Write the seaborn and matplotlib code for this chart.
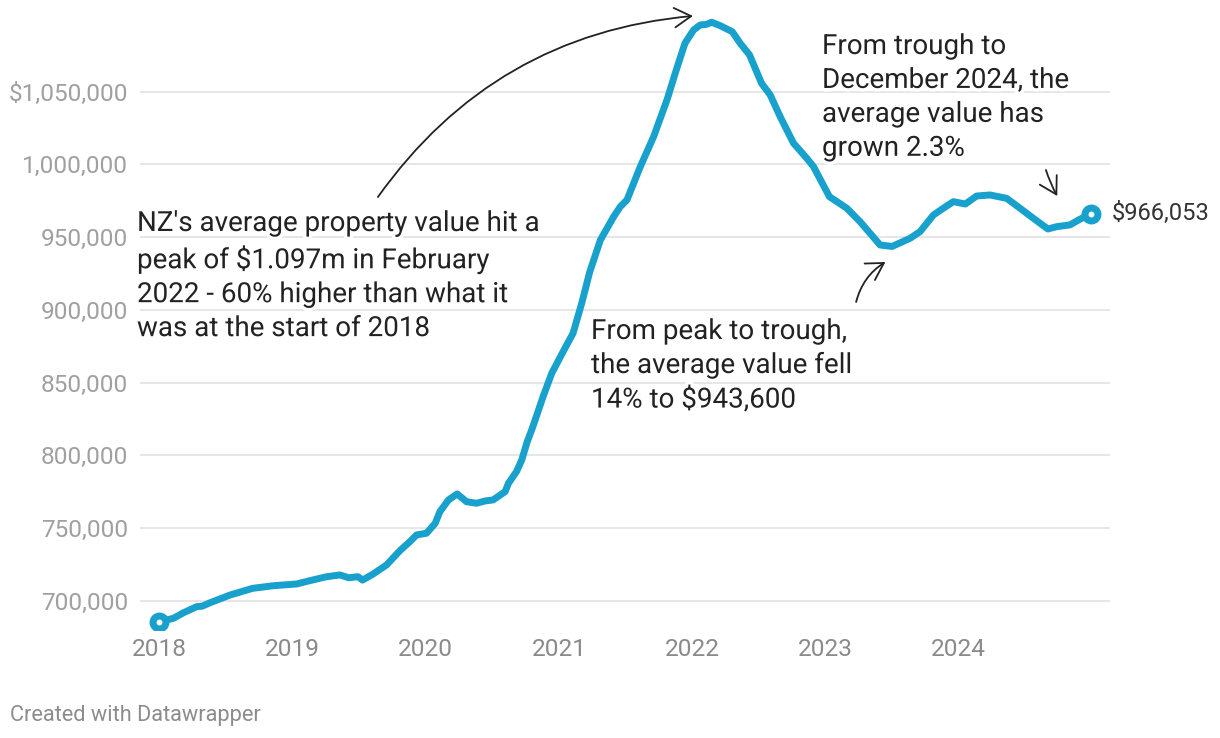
import matplotlib
matplotlib.use("Agg")
import matplotlib.pyplot as plt
import matplotlib.patheffects as pe
from matplotlib.patches import FancyArrowPatch
import seaborn as sns
import pandas as pd

# ---- data ----
years = [2018.00, 2018.105, 2018.18, 2018.28, 2018.32, 2018.38, 2018.53, 2018.70, 2018.855,
         2019.03, 2019.13, 2019.255, 2019.355, 2019.42, 2019.49, 2019.525, 2019.605, 2019.705,
         2019.805, 2019.88, 2019.93, 2020.005, 2020.07, 2020.105, 2020.17, 2020.235, 2020.305,
         2020.38, 2020.445, 2020.505, 2020.595, 2020.62, 2020.68, 2020.72, 2020.76, 2020.80,
         2020.88, 2020.945, 2021.03, 2021.105, 2021.17, 2021.23, 2021.31, 2021.41, 2021.46,
         2021.51, 2021.61, 2021.71, 2021.81, 2021.88, 2021.945, 2022.01, 2022.06, 2022.11,
         2022.145, 2022.21, 2022.30, 2022.36, 2022.43, 2022.52, 2022.585, 2022.66, 2022.76,
         2022.86, 2022.91, 2023.03, 2023.16, 2023.26, 2023.41, 2023.50, 2023.635, 2023.71,
         2023.81, 2023.885, 2023.96, 2024.05, 2024.135, 2024.235, 2024.36, 2024.46, 2024.56,
         2024.67, 2024.735, 2024.835, 2024.90, 2024.99]
values = [685600, 687900, 691700, 695900, 696200, 698600, 703900, 708500, 710300,
          711500, 713800, 716500, 717700, 715800, 716500, 714200, 718400, 724600,
          734400, 740600, 745200, 746400, 753200, 761200, 769300, 773400, 768100,
          767000, 768600, 769300, 775000, 780700, 788700, 796800, 809100, 818800,
          840300, 856400, 871200, 883900, 904500, 926000, 948000, 964100, 971000,
          975600, 998500, 1019100, 1044300, 1065000, 1083300, 1092500, 1095900, 1096400,
          1097800, 1095400, 1091300, 1083300, 1075300, 1055800, 1047800, 1032800, 1014600,
          1004200, 998500, 977800, 969900, 960600, 944600, 943600, 949200, 953800,
          965200, 969900, 974400, 972800, 978300, 979000, 976700, 969900, 963000,
          955600, 957200, 958400, 961800, 966053]

y_ticks = [700000, 750000, 800000, 850000, 900000, 950000, 1000000, 1050000]
y_tick_labels = ["700,000", "750,000", "800,000", "850,000", "900,000", "950,000",
                 "1,000,000", "$1,050,000"]
x_ticks = [2018, 2019, 2020, 2021, 2022, 2023, 2024]
x_tick_labels = ["2018", "2019", "2020", "2021", "2022", "2023", "2024"]
end_label = "$966,053"

note_peak = "NZ's average property value hit a\npeak of $1.097m in February\n2022 - 60% higher than what it\nwas at the start of 2018"
note_trough = "From peak to trough,\nthe average value fell\n14% to $943,600"
note_recent = "From trough to\nDecember 2024, the\naverage value has\ngrown 2.3%"
credit = "Created with Datawrapper"

# ---- style ----
sns.set_theme(style="white")
plt.rcParams["font.family"] = ["Roboto", "DejaVu Sans"]

W, H = 1220, 738
fig = plt.figure(figsize=(W / 100, H / 100), dpi=100)
# axes in pixel box: left 140, right 1110, top 10, bottom 630
ax = fig.add_axes([140 / W, 1 - 630 / H, (1110 - 140) / W, (630 - 10) / H])

BLUE = "#18a1cd"
df = pd.DataFrame({"year": years, "value": values})
sns.lineplot(data=df, x="year", y="value", ax=ax, color=BLUE, linewidth=5.0,
             sort=False, estimator=None, solid_capstyle="round", solid_joinstyle="round",
             zorder=3)
ends = df.iloc[[0, -1]]
sns.scatterplot(data=ends, x="year", y="value", ax=ax, s=87, color="white",
                edgecolor=BLUE, linewidth=5.0, zorder=4, legend=False)

ax.set_xlim(2017.854, 2025.136)
ax.set_ylim(679850, 1106200)
ax.set_yticks(y_ticks)
ax.set_yticklabels(y_tick_labels)
ax.set_xticks(x_ticks)
ax.set_xticklabels(x_tick_labels)
ax.set_xlabel("")
ax.set_ylabel("")
for s in ax.spines.values():
    s.set_visible(False)
ax.grid(False)
for yv in y_ticks:
    ax.axhline(yv, color="#e2e2e2", linewidth=1.2, zorder=1)
ax.tick_params(axis="y", length=0, pad=8.5, labelsize=17.6, labelcolor="#a0a0a0")
ax.tick_params(axis="x", length=0, pad=6, labelsize=17.6, labelcolor="#8a8a8a")

halo = [pe.withStroke(linewidth=5, foreground="white")]
TXT = "#222222"

ax.annotate(end_label, xy=(years[-1], values[-1]), xytext=(15, 0),
            textcoords="offset points", va="center", ha="left",
            fontsize=17, color="#333333")

fig.text(137 / W, 1 - 210 / H, note_peak, ha="left", va="top", fontsize=20,
         color=TXT, linespacing=1.33, path_effects=halo, zorder=5)
fig.text(591 / W, 1 - 318 / H, note_trough, ha="left", va="top", fontsize=20,
         color=TXT, linespacing=1.33, path_effects=halo, zorder=5)
fig.text(822 / W, 1 - 33 / H, note_recent, ha="left", va="top", fontsize=20,
         color=TXT, linespacing=1.33, path_effects=halo, zorder=5)

fig.text(10 / W, 1 - 715 / H, credit, ha="left", va="center", fontsize=15.7,
         color="#8c8c8c")

# arrows (data coordinates)
arrow_kw = dict(arrowstyle="->,head_length=0.6,head_width=0.35", mutation_scale=20,
                color="#222222", linewidth=1.3, zorder=6, shrinkA=0, shrinkB=0)
a1 = FancyArrowPatch((2019.64, 977600), (2022.005, 1102100),
                     connectionstyle="arc3,rad=-0.23", transform=ax.transData, **arrow_kw)
a2 = FancyArrowPatch((2023.23, 905400), (2023.45, 932900),
                     connectionstyle="arc3,rad=-0.2", transform=ax.transData, **arrow_kw)
a3 = FancyArrowPatch((2024.655, 996200), (2024.74, 978300),
                     connectionstyle="arc3,rad=0.05", transform=ax.transData, **arrow_kw)
for a in (a1, a2, a3):
    a.set_clip_on(False)
    ax.add_patch(a)

fig.savefig("out.png", dpi=100, facecolor="white")
